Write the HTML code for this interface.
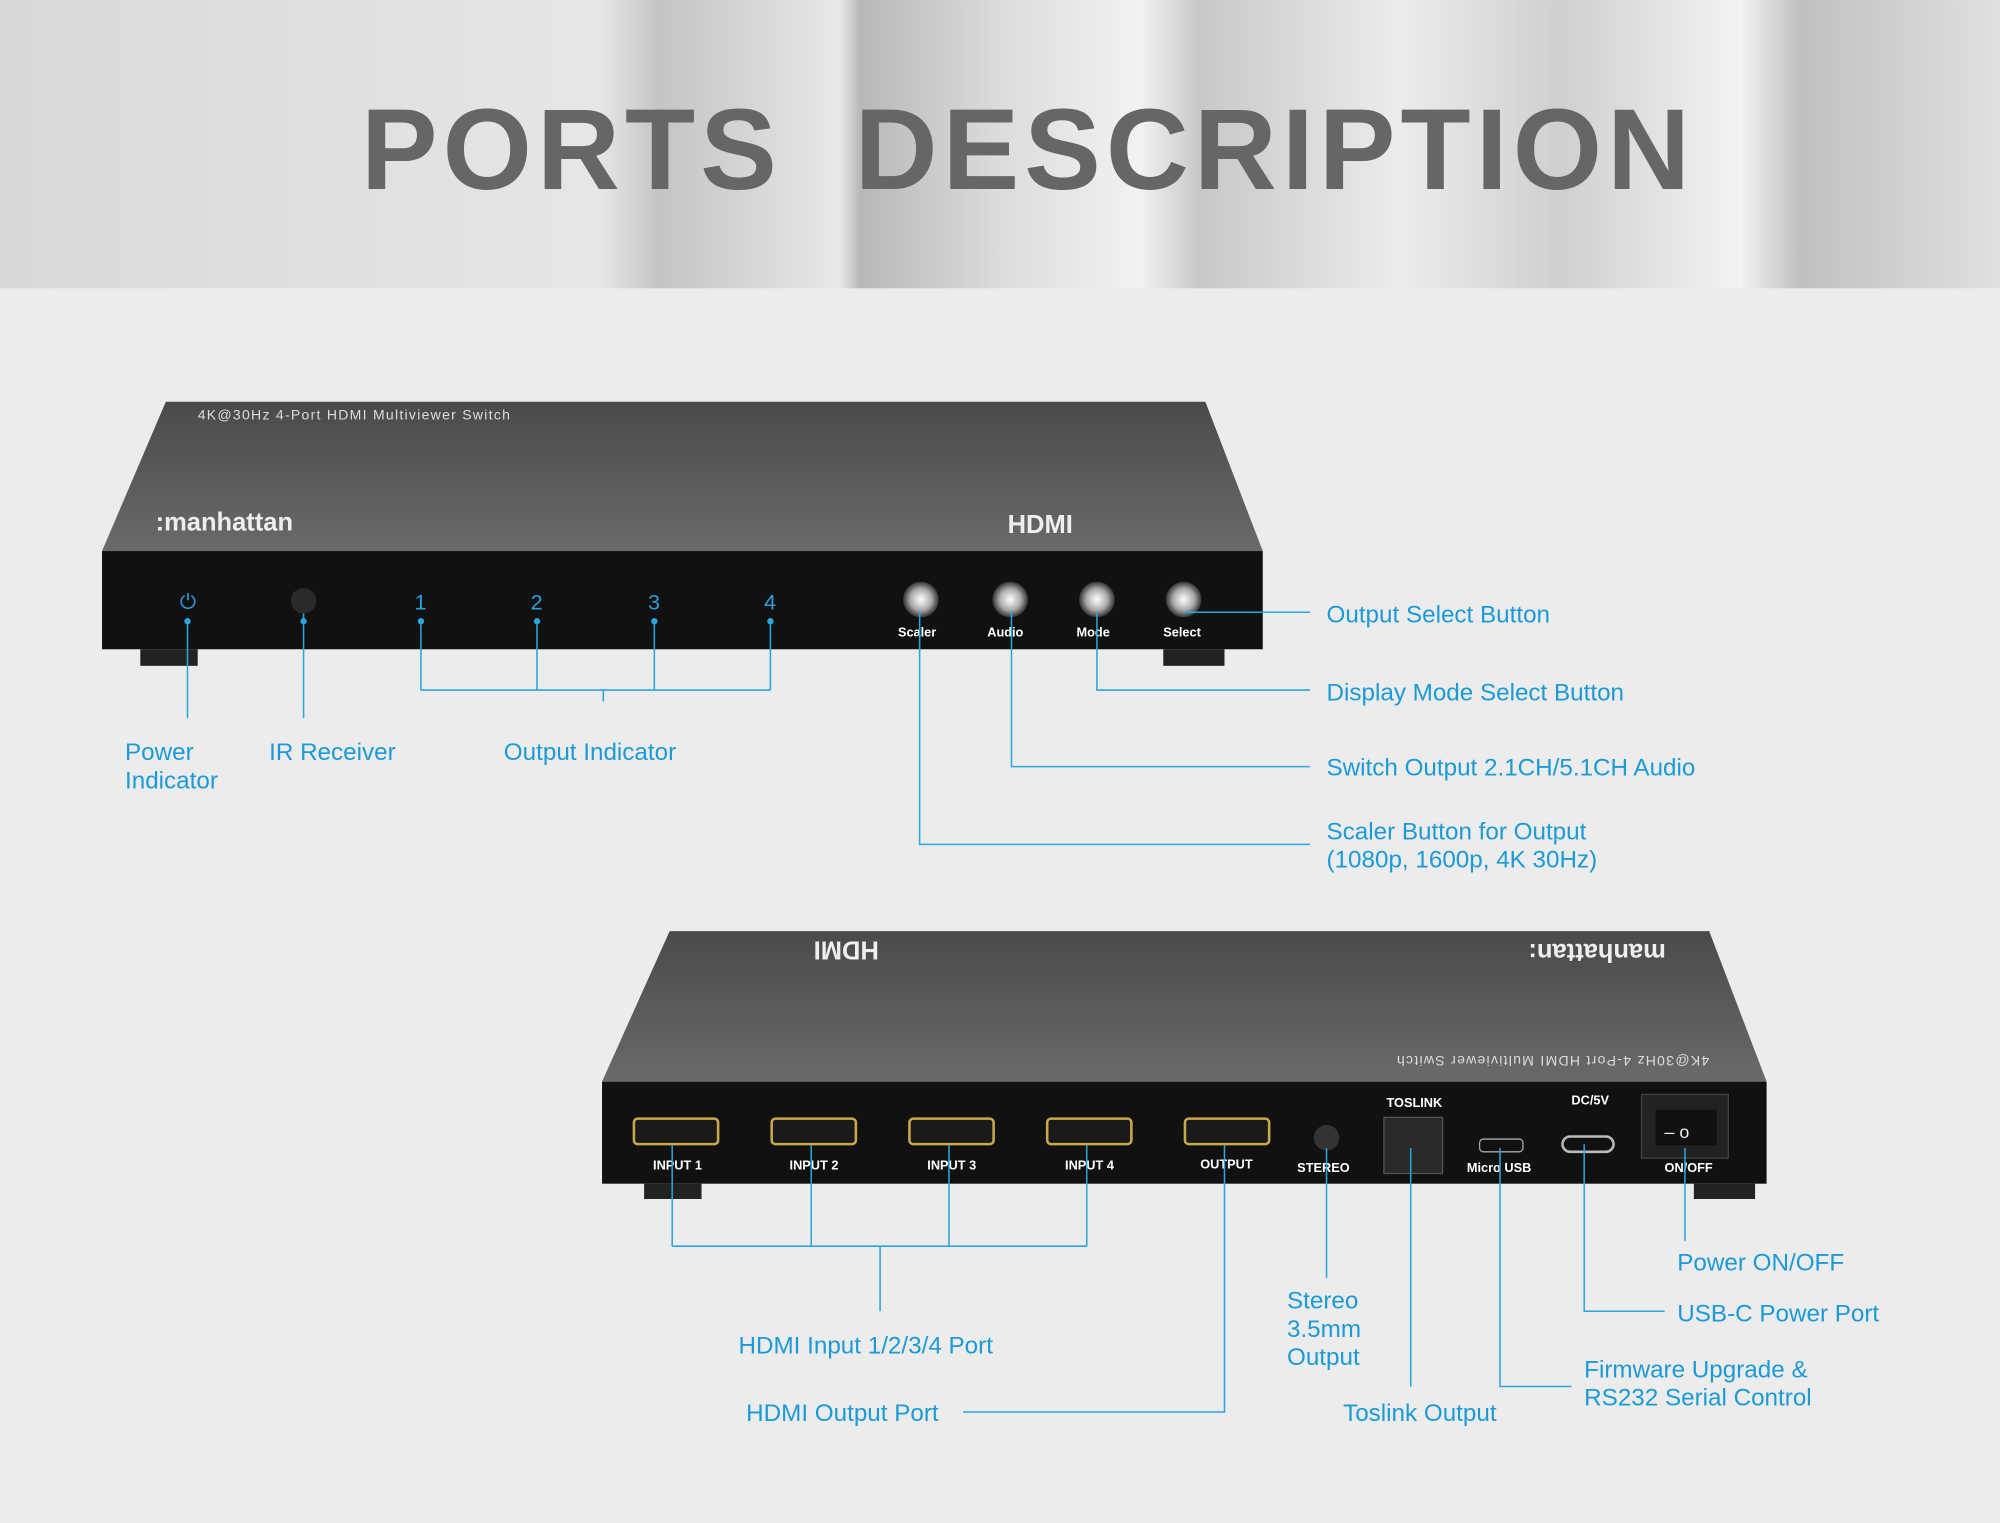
<!DOCTYPE html>
<html><head><meta charset="utf-8"><style>
html,body{margin:0;padding:0;background:#eee;overflow:hidden}
svg{display:block}
text{font-family:"Liberation Sans",sans-serif}
.lb{fill:#1b9ad8;font-size:19px}
.ln{stroke:#2aa5dd;stroke-width:1.2;fill:none}
.pl{fill:#fff;font-size:10px;font-weight:bold}
</style></head><body>
<svg width="2000" height="1523" viewBox="0 0 1568 1194" xmlns="http://www.w3.org/2000/svg">
<defs>
<linearGradient id="hd" x1="0" x2="1" y1="0" y2="0">
<stop offset="0" stop-color="#d8d8d8"/><stop offset="0.3" stop-color="#e6e6e6"/>
<stop offset="0.33" stop-color="#c4c4c4"/><stop offset="0.42" stop-color="#e8e8e8"/>
<stop offset="0.43" stop-color="#b8b8b8"/><stop offset="0.5" stop-color="#dcdcdc"/>
<stop offset="0.57" stop-color="#f2f2f2"/><stop offset="0.6" stop-color="#c8c8c8"/>
<stop offset="0.7" stop-color="#ececec"/><stop offset="0.78" stop-color="#cfcfcf"/>
<stop offset="0.87" stop-color="#f3f3f3"/><stop offset="0.9" stop-color="#c0c0c0"/>
<stop offset="1" stop-color="#e0e0e0"/></linearGradient>
<linearGradient id="top" x1="0" x2="0" y1="0" y2="1"><stop offset="0" stop-color="#4a4a4a"/><stop offset="1" stop-color="#6a6a6a"/></linearGradient>
<radialGradient id="btn"><stop offset="0" stop-color="#fff"/><stop offset="0.6" stop-color="#aaa"/><stop offset="1" stop-color="#333"/></radialGradient>
</defs>
<rect width="1568" height="1194" fill="#ececec"/>
<rect width="1568" height="226" fill="url(#hd)"/>
<text x="283" y="148" font-size="90" font-weight="bold" fill="#666" letter-spacing="4">PORTS</text>
<text x="670" y="148" font-size="90" font-weight="bold" fill="#666" letter-spacing="4">DESCRIPTION</text>

<!-- front device -->
<polygon points="130,315 945,315 990,432 80,432" fill="url(#top)"/>
<rect x="80" y="432" width="910" height="77" fill="#111"/>
<rect x="110" y="509" width="45" height="13" fill="#222"/><rect x="912" y="509" width="48" height="13" fill="#222"/>
<text x="155" y="329" font-size="11" fill="#ddd" letter-spacing="1">4K@30Hz 4-Port HDMI Multiviewer Switch</text>
<text x="122" y="416" font-size="20" font-weight="bold" fill="#eee">:manhattan</text>
<text x="790" y="418" font-size="20" font-weight="bold" fill="#eee">HDMI</text>
<text x="141" y="477" font-size="16" fill="#2a9fdc">⏻</text>
<circle cx="238" cy="471" r="10" fill="#2a2a2a"/>
<g font-size="17" fill="#2a9fdc"><text x="325" y="478">1</text><text x="416" y="478">2</text><text x="508" y="478">3</text><text x="599" y="478">4</text></g>
<g><circle cx="722" cy="470" r="14" fill="url(#btn)"/><circle cx="792" cy="470" r="14" fill="url(#btn)"/><circle cx="860" cy="470" r="14" fill="url(#btn)"/><circle cx="928" cy="470" r="14" fill="url(#btn)"/></g>
<g class="pl"><text x="704" y="499">Scaler</text><text x="774" y="499">Audio</text><text x="844" y="499">Mode</text><text x="912" y="499">Select</text></g>
<g class="ln">
<path d="M147,487V563M238,481V563M330,487V541M421,487V541M513,487V541M604,487V541M330,541H604M473,541V550"/>
<path d="M928,480H1027M860,480V541H1027M793,480V601H1027M721,480V662H1027"/>
</g>
<g fill="#2aa5dd"><circle cx="147" cy="487" r="2.5"/><circle cx="238" cy="487" r="2.5"/><circle cx="330" cy="487" r="2.5"/><circle cx="421" cy="487" r="2.5"/><circle cx="513" cy="487" r="2.5"/><circle cx="604" cy="487" r="2.5"/></g>
<g class="lb">
<text x="98" y="596">Power</text><text x="98" y="618">Indicator</text>
<text x="211" y="596">IR Receiver</text>
<text x="395" y="596">Output Indicator</text>
<text x="1040" y="488">Output Select Button</text>
<text x="1040" y="549">Display Mode Select Button</text>
<text x="1040" y="608">Switch Output 2.1CH/5.1CH Audio</text>
<text x="1040" y="658">Scaler Button for Output</text>
<text x="1040" y="680">(1080p, 1600p, 4K 30Hz)</text>
</g>

<!-- back device -->
<polygon points="525,730 1340,730 1385,848 472,848" fill="url(#top)"/>
<rect x="472" y="848" width="913" height="80" fill="#111"/>
<rect x="505" y="928" width="45" height="12" fill="#222"/><rect x="1328" y="928" width="48" height="12" fill="#222"/>
<text x="555" y="750" font-size="20" font-weight="bold" fill="#eee" transform="rotate(180 622 744)">HDMI</text>
<text x="1130" y="752" font-size="20" font-weight="bold" fill="#eee" transform="rotate(180 1218 746)">manhattan:</text>
<text x="900" y="836" font-size="11" fill="#ddd" letter-spacing="1" transform="rotate(180 1120 832)">4K@30Hz 4-Port HDMI Multiviewer Switch</text>
<g fill="#1a1a1a" stroke="#c9a84a" stroke-width="2">
<rect x="497" y="877" width="66" height="20" rx="3"/><rect x="605" y="877" width="66" height="20" rx="3"/><rect x="713" y="877" width="66" height="20" rx="3"/><rect x="821" y="877" width="66" height="20" rx="3"/><rect x="929" y="877" width="66" height="20" rx="3"/></g>
<g class="pl"><text x="512" y="917">INPUT 1</text><text x="619" y="917">INPUT 2</text><text x="727" y="917">INPUT 3</text><text x="835" y="917">INPUT 4</text><text x="941" y="916">OUTPUT</text><text x="1017" y="919">STEREO</text><text x="1087" y="868">TOSLINK</text><text x="1150" y="919">Micro USB</text><text x="1232" y="866">DC/5V</text><text x="1305" y="919">ON/OFF</text></g>
<circle cx="1040" cy="892" r="10" fill="#333"/><rect x="1085" y="876" width="46" height="44" fill="#2a2a2a" stroke="#555"/>
<rect x="1160" y="893" width="34" height="10" rx="3" fill="#111" stroke="#aaa"/>
<rect x="1225" y="891" width="40" height="12" rx="6" fill="#111" stroke="#bbb" stroke-width="2"/>
<rect x="1287" y="858" width="68" height="50" fill="#222" stroke="#444"/><rect x="1298" y="870" width="48" height="28" fill="#111"/>
<text x="1305" y="892" font-size="14" fill="#eee">– o</text>
<g class="ln">
<path d="M527,898V977M636,898V977M744,898V977M852,898V977M527,977H852M690,977V1028"/>
<path d="M960,898V1107H755M1040,900V1002M1106,900V1087M1176,900V1087H1232M1242,897V1028H1305M1321,900V973"/>
</g>
<g class="lb">
<text x="579" y="1061">HDMI  Input 1/2/3/4 Port</text>
<text x="585" y="1114">HDMI Output Port</text>
<text x="1009" y="1026">Stereo</text><text x="1009" y="1048">3.5mm</text><text x="1009" y="1070">Output</text>
<text x="1053" y="1114">Toslink Output</text>
<text x="1315" y="996">Power ON/OFF</text>
<text x="1315" y="1036">USB-C Power Port</text>
<text x="1242" y="1080">Firmware Upgrade &amp;</text>
<text x="1242" y="1102">RS232 Serial Control</text>
</g>
</svg>
</body></html>
